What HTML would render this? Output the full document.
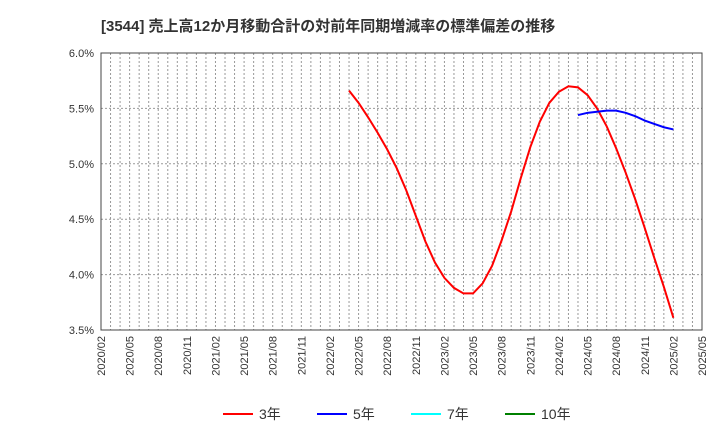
<!DOCTYPE html>
<html><head><meta charset="utf-8"><style>
body{margin:0;background:#fff;font-family:"Liberation Sans","Noto Sans CJK JP",sans-serif;}
svg text{font-family:"Liberation Sans","Noto Sans CJK JP",sans-serif;}
</style></head><body>
<svg id="c" width="720" height="440">
<text x="101" y="31" font-size="15" font-weight="bold" fill="#333">[3544]  売上高12か月移動合計の対前年同期増減率の標準偏差の推移</text>
<g id="grid"></g><g id="axes"></g><g id="series"></g><g id="legend"></g>
</svg>
<script>
const yTicks=[3.5,4.0,4.5,5.0,5.5,6.0];
const xTickLabels=["2020/02","2020/05","2020/08","2020/11","2021/02","2021/05","2021/08","2021/11","2022/02","2022/05","2022/08","2022/11","2023/02","2023/05","2023/08","2023/11","2024/02","2024/05","2024/08","2024/11","2025/02","2025/05"];
const s3Start=26; // months from 2020/02 (2022/04)
const s3=[5.66,5.55,5.42,5.28,5.13,4.96,4.76,4.53,4.30,4.11,3.97,3.88,3.83,3.83,3.92,4.08,4.31,4.57,4.87,5.15,5.38,5.55,5.65,5.70,5.69,5.62,5.50,5.34,5.14,4.92,4.68,4.42,4.15,3.89,3.61];
const s5Start=50; // 2024/04
const s5=[5.44,5.46,5.47,5.48,5.48,5.46,5.43,5.39,5.36,5.33,5.31];
const legendLabels=["3年","5年","7年","10年"];
const legendColors=["#ff0000","#0000ff","#00ffff","#008000"];
const L=101,R=702,T=53,B=330,NM=63;
const X=m=>L+(R-L)*m/NM;
const Y=v=>B-(v-3.5)/(6.0-3.5)*(B-T);
const NS="http://www.w3.org/2000/svg";
function mk(p,t,a){const e=document.createElementNS(NS,t);for(const k in a)e.setAttribute(k,a[k]);p.appendChild(e);return e;}
const grid=document.getElementById('grid'),axes=document.getElementById('axes'),ser=document.getElementById('series'),leg=document.getElementById('legend');
for(let m=1;m<NM;m++){const l=mk(grid,'line',{x1:X(m),x2:X(m),y1:T,y2:B,stroke:'#999','stroke-dasharray':'2,2','stroke-width':1});

}
yTicks.forEach(v=>{if(v>3.5&&v<6.0){const l=mk(grid,'line',{x1:L,x2:R,y1:Y(v),y2:Y(v),stroke:'#999','stroke-dasharray':'2,2'});

}
const t=mk(axes,'text',{x:L-7,y:Y(v)+4,'text-anchor':'end','font-size':11,fill:'#333'});t.textContent=v.toFixed(1)+'%';

});
xTickLabels.forEach((s,i)=>{const x=X(i*3);const t=mk(axes,'text',{x:x+4,y:B+6,'text-anchor':'end','font-size':11,fill:'#333',transform:`rotate(-90 ${x+4} ${B+6})`});t.textContent=s;

});
const fr=mk(axes,'rect',{x:L,y:T,width:R-L,height:B-T,fill:'none',stroke:'#444','stroke-width':1});


function line(arr,st,col,name){const p=mk(ser,'polyline',{points:arr.map((v,i)=>X(st+i)+','+Y(v)).join(' '),fill:'none',stroke:col,'stroke-width':2});

}
line(s3,s3Start,'#ff0000','series-3y');
line(s5,s5Start,'#0000ff','series-5y');
const lx=[223,317,411,505];
legendLabels.forEach((s,i)=>{const g=mk(leg,'g',{});


mk(g,'line',{x1:lx[i],x2:lx[i]+30,y1:414,y2:414,stroke:legendColors[i],'stroke-width':2});
const t=mk(g,'text',{x:lx[i]+36,y:419,'font-size':14,fill:'#333'});t.textContent=s;});
</script>
</body></html>
